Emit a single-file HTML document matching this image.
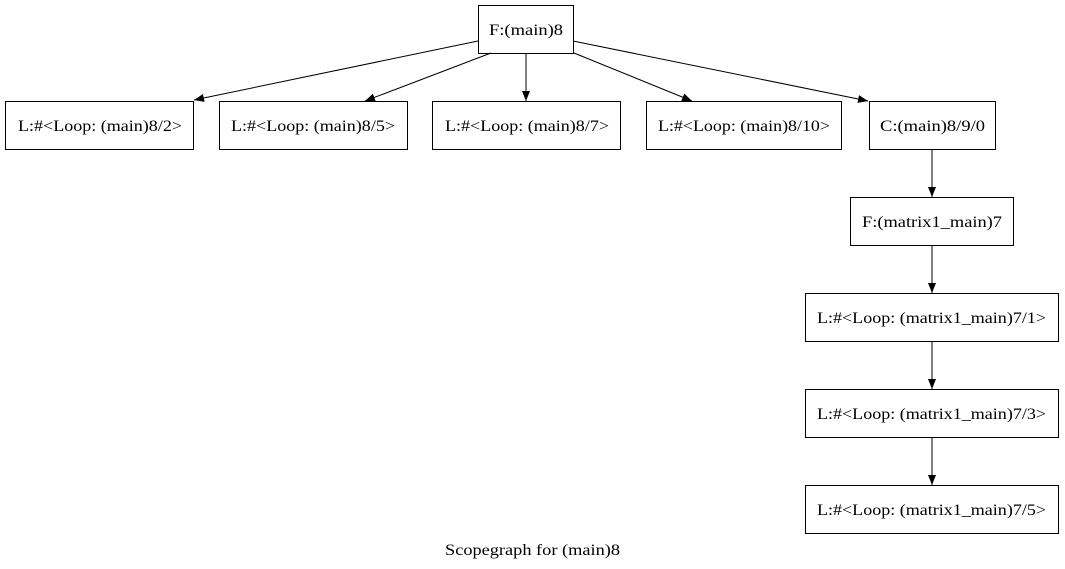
<!DOCTYPE html>
<html><head><meta charset="utf-8"><style>
html,body{margin:0;padding:0;background:#fff;}
svg{display:block;}
text{font-family:"Liberation Serif",serif;font-size:16px;fill:#000;}
</style></head><body>
<svg width="1065" height="569" viewBox="0 0 1065 569" xmlns="http://www.w3.org/2000/svg">
<defs><marker id="a" markerWidth="10" markerHeight="8" refX="10" refY="4" orient="auto" markerUnits="userSpaceOnUse"><path d="M0,0 L10,4 L0,8 Z" fill="#000"/></marker></defs>
<g fill="none" stroke="#000" stroke-width="1">
<rect x="478.5" y="5.5" width="95" height="48"/>
<rect x="5.5" y="101.5" width="188" height="48"/>
<rect x="219.5" y="101.5" width="188" height="48"/>
<rect x="432.5" y="101.5" width="188" height="48"/>
<rect x="646.5" y="101.5" width="195" height="48"/>
<rect x="869.5" y="101.5" width="126" height="48"/>
<rect x="850.5" y="197.5" width="163" height="48"/>
<rect x="805.5" y="293.5" width="253" height="48"/>
<rect x="805.5" y="389.5" width="253" height="48"/>
<rect x="805.5" y="485.5" width="253" height="48"/>
<path d="M478,41 L194,100" marker-end="url(#a)"/>
<path d="M491,53 L365,101" marker-end="url(#a)"/>
<path d="M526,53 L526,101" marker-end="url(#a)"/>
<path d="M574,53 L692,101" marker-end="url(#a)"/>
<path d="M573,41 L868,101" marker-end="url(#a)"/>
<path d="M932,149 L932,197" marker-end="url(#a)"/>
<path d="M932,245 L932,293" marker-end="url(#a)"/>
<path d="M932,341 L932,389" marker-end="url(#a)"/>
<path d="M932,437 L932,485" marker-end="url(#a)"/>
</g>
<g>
<text x="489" y="35" textLength="74" lengthAdjust="spacingAndGlyphs">F:(main)8</text>
<text x="18" y="131" textLength="164" lengthAdjust="spacingAndGlyphs">L:#&lt;Loop: (main)8/2&gt;</text>
<text x="231" y="131" textLength="164" lengthAdjust="spacingAndGlyphs">L:#&lt;Loop: (main)8/5&gt;</text>
<text x="445" y="131" textLength="164" lengthAdjust="spacingAndGlyphs">L:#&lt;Loop: (main)8/7&gt;</text>
<text x="658" y="131" textLength="172" lengthAdjust="spacingAndGlyphs">L:#&lt;Loop: (main)8/10&gt;</text>
<text x="880" y="131" textLength="105" lengthAdjust="spacingAndGlyphs">C:(main)8/9/0</text>
<text x="862" y="227" textLength="140" lengthAdjust="spacingAndGlyphs">F:(matrix1_main)7</text>
<text x="817" y="323" textLength="229" lengthAdjust="spacingAndGlyphs">L:#&lt;Loop: (matrix1_main)7/1&gt;</text>
<text x="817" y="419" textLength="229" lengthAdjust="spacingAndGlyphs">L:#&lt;Loop: (matrix1_main)7/3&gt;</text>
<text x="817" y="515" textLength="229" lengthAdjust="spacingAndGlyphs">L:#&lt;Loop: (matrix1_main)7/5&gt;</text>
<text x="445" y="555" textLength="175" lengthAdjust="spacingAndGlyphs">Scopegraph for (main)8</text>
</g>
</svg>
</body></html>
